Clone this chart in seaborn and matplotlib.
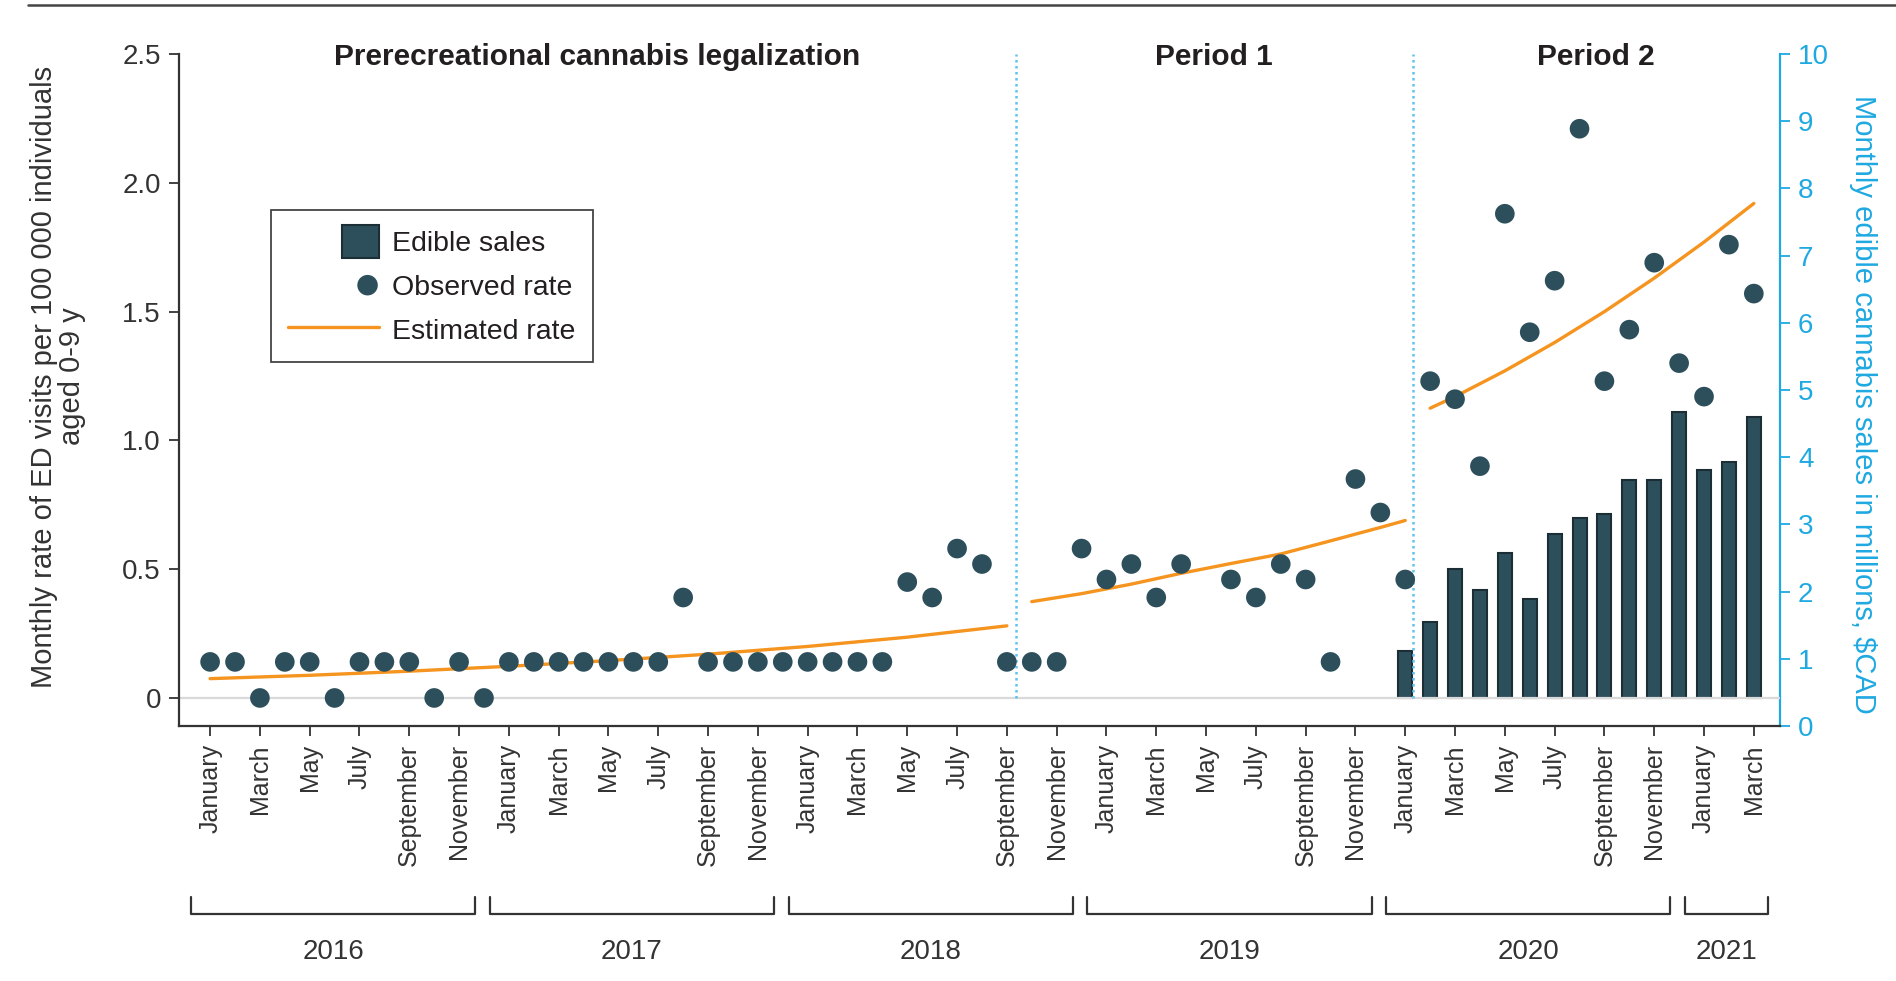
import numpy as np
import matplotlib
matplotlib.use('Agg')
import matplotlib.pyplot as plt
import matplotlib.patches as mpatches
import matplotlib.transforms as mtransforms
from matplotlib.lines import Line2D
from matplotlib.legend_handler import HandlerPatch
import seaborn as sns

# data (month index 0 = January 2016, 62 = March 2021)
month_names = ['January', 'February', 'March', 'April', 'May', 'June', 'July',
               'August', 'September', 'October', 'November', 'December']
years = ['2016', '2017', '2018', '2019', '2020', '2021']
months_per_year = [12, 12, 12, 12, 12, 3]

observed_rate = [
    0.14, 0.14, 0.00, 0.14, 0.14, 0.00, 0.14, 0.14, 0.14, 0.00, 0.14, 0.00,   # 2016
    0.14, 0.14, 0.14, 0.14, 0.14, 0.14, 0.14, 0.39, 0.14, 0.14, 0.14, 0.14,   # 2017
    0.14, 0.14, 0.14, 0.14, 0.45, 0.39, 0.58, 0.52, 0.14, 0.14, 0.14, 0.58,   # 2018
    0.46, 0.52, 0.39, 0.52, np.nan, 0.46, 0.39, 0.52, 0.46, 0.14, 0.85, 0.72, # 2019
    0.46, 1.23, 1.16, 0.90, 1.88, 1.42, 1.62, 2.21, 1.23, 1.43, 1.69, 1.30,   # 2020
    1.17, 1.76, 1.57,                                                         # 2021
]

sales_months = list(range(48, 63))
edible_sales = [1.12, 1.55, 2.34, 2.02, 2.57, 1.89, 2.86, 3.10, 3.16, 3.66,
                3.66, 4.68, 3.81, 3.93, 4.60]

est_pre_months = [0, 4, 8, 12, 16, 20, 24, 28, 32]
est_pre = [0.075, 0.088, 0.104, 0.123, 0.145, 0.170, 0.200, 0.236, 0.280]
est_p1_months = [33, 35, 37, 39, 41, 43, 45, 47, 48]
est_p1 = [0.374, 0.405, 0.442, 0.484, 0.522, 0.559, 0.610, 0.662, 0.689]
est_p2_months = [49, 50, 52, 54, 56, 58, 60, 62]
est_p2 = [1.125, 1.17, 1.27, 1.38, 1.50, 1.63, 1.77, 1.92]

period_titles = ['Prerecreational cannabis legalization', 'Period 1', 'Period 2']

# style
teal = '#2d4f5c'
teal_edge = '#1c2e35'
orange = '#f5941f'
blue = '#1fa9e1'
dotted_blue = '#5ec4ef'
dark = '#333333'

sns.set_style('ticks')
plt.rcParams['font.family'] = ['Liberation Sans', 'DejaVu Sans']

fig = plt.figure(figsize=(18.96, 9.81), dpi=100)
ax = fig.add_axes([0.0944, 0.2599, 0.8444, 0.685])
ax2 = ax.twinx()
ax.set_zorder(ax2.get_zorder() + 1)
ax.patch.set_visible(False)

xlo, xhi = -1.25, 63.05
ylo, yhi = -0.109, 2.5
ax.set_xlim(xlo, xhi)
ax.set_ylim(ylo, yhi)
ax2.set_ylim(0, 10)

# bars start at the left-axis zero line
base = (0 - ylo) / (yhi - ylo) * 10
ax2.bar(sales_months, np.array(edible_sales) - base, bottom=base, width=0.56,
        color=teal, edgecolor=teal_edge, linewidth=1.5)

ax.axhline(0, color='#d9d9d9', lw=1.6, zorder=1)
breaks = [32.35, 48.3]
ax.vlines(breaks, 0, 2.5, colors=dotted_blue, linestyles=(0, (1, 1.4)), lw=1.8, zorder=2)

sns.scatterplot(x=np.arange(len(observed_rate)), y=observed_rate, ax=ax, s=200,
                color=teal, edgecolor='none', zorder=4, legend=False)
for m, v in [(est_pre_months, est_pre), (est_p1_months, est_p1), (est_p2_months, est_p2)]:
    sns.lineplot(x=m, y=v, ax=ax, color=orange, lw=2.4, zorder=3, legend=False)

# period titles
bounds = [xlo] + breaks + [xhi]
for i, t in enumerate(period_titles):
    ax.text((bounds[i] + bounds[i + 1]) / 2, 2.49, t, ha='center', va='center',
            fontsize=21.5, fontweight='bold', color='#231f20')

# axes
ax.set_xticks(range(0, len(observed_rate), 2))
ax.set_xticklabels([month_names[i % 12] for i in range(0, len(observed_rate), 2)], rotation=90)
ax.set_yticks([0, 0.5, 1.0, 1.5, 2.0, 2.5])
ax.set_yticklabels(['0', '0.5', '1.0', '1.5', '2.0', '2.5'])
ax.tick_params(axis='both', direction='out', length=7, width=1.3, color=dark,
               labelsize=18, labelcolor=dark, pad=6)
ax.tick_params(axis='y', labelsize=20)
ax.set_xlabel('')
ax.set_ylabel('')
for s in ['top', 'right']:
    ax.spines[s].set_visible(False)
for s in ['left', 'bottom']:
    ax.spines[s].set_color(dark)
    ax.spines[s].set_linewidth(1.6)

ax2.set_yticks(range(0, 11))
ax2.tick_params(axis='y', direction='out', length=7, width=1.3, colors=blue,
                labelsize=20, pad=6)
for s in ['top', 'left', 'bottom']:
    ax2.spines[s].set_visible(False)
ax2.spines['right'].set_color(blue)
ax2.spines['right'].set_linewidth(1.6)

ax.text(-0.0755, 0.52, 'Monthly rate of ED visits per 100 000 individuals\naged 0-9 y',
        transform=ax.transAxes, rotation=90, ha='center', va='center',
        fontsize=21, linespacing=1.0, color=dark)
ax.text(1.052, 0.478, 'Monthly edible cannabis sales in millions, $CAD',
        transform=ax.transAxes, rotation=270, ha='center', va='center',
        fontsize=21, color=blue)

# year brackets
trans = mtransforms.blended_transform_factory(ax.transData, ax.transAxes)
start = 0
for yr, n in zip(years, months_per_year):
    s = start - 0.77
    e = start + n - 1 - 0.35 if n == 12 else start + n - 1 + 0.58
    ax.add_line(Line2D([s, s, e, e], [-0.254, -0.28, -0.28, -0.254], transform=trans,
                       color=dark, lw=1.6, clip_on=False))
    ax.text((s + e) / 2, -0.336, yr, transform=trans, ha='center', va='center',
            fontsize=20, color=dark)
    start += n

# top rule
fig.add_artist(Line2D([0.015, 1.0], [0.9945, 0.9945], transform=fig.transFigure,
                      color='#444444', lw=1.8))

# legend


def square_handle(legend, orig_handle, xdescent, ydescent, width, height, fontsize):
    w, h = 1.3 * fontsize, 1.15 * fontsize
    return mpatches.Rectangle((width - xdescent - w, -ydescent + (height - h) / 2), w, h)


def dot_handle(legend, orig_handle, xdescent, ydescent, width, height, fontsize):
    r = 0.36 * fontsize
    return mpatches.Circle((width - xdescent - r - 0.05 * fontsize, -ydescent + height / 2), r)


bar_proxy = mpatches.Patch(facecolor=teal, edgecolor=teal_edge, linewidth=1.5)
dot_proxy = mpatches.Patch(facecolor=teal, edgecolor='none')
line_proxy = Line2D([], [], color=orange, lw=2.4)
leg = ax.legend([bar_proxy, dot_proxy, line_proxy],
                ['Edible sales', 'Observed rate', 'Estimated rate'],
                handler_map={bar_proxy: HandlerPatch(patch_func=square_handle),
                             dot_proxy: HandlerPatch(patch_func=dot_handle)},
                loc='upper left', bbox_to_anchor=(0.0575, 0.768), borderaxespad=0,
                fontsize=20.5, frameon=True, fancybox=False, edgecolor='#444444',
                framealpha=1, handlelength=3.2, handleheight=1.15, handletextpad=0.45,
                labelspacing=0.5, borderpad=0.6)
leg.get_frame().set_linewidth(1.3)
for t in leg.get_texts():
    t.set_color('#231f20')

fig.savefig('out.png', dpi=100)
